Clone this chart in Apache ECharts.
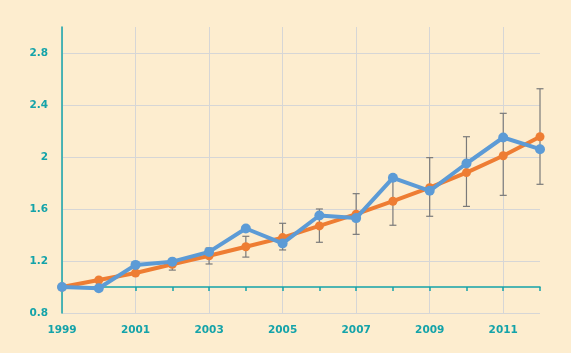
<!DOCTYPE html>
<html>
<head>
<meta charset="utf-8">
<script src="https://cdn.jsdelivr.net/npm/echarts@6/dist/echarts.min.js"></script>
<style>
  html, body { margin: 0; padding: 0; background: #fdedcf; }
  #chart { width: 571px; height: 353px; }
</style>
</head>
<body>
<div id="chart"></div>
<script>
// years on the x axis
const years = ["1999", "2000", "2001", "2002", "2003", "2004", "2005", "2006",
  "2007", "2008", "2009", "2010", "2011", "2012"];

// orange series (trend) and blue series (observed)
const orangeValues = [1.0, 1.054, 1.108, 1.175, 1.24, 1.31, 1.38, 1.47, 1.56, 1.66, 1.764, 1.88, 2.01, 2.156];
const blueValues = [1.0, 0.99, 1.17, 1.195, 1.27, 1.45, 1.335, 1.55, 1.53, 1.84, 1.74, 1.95, 2.15, 2.06];

// error bars around the orange series (null = none)
const errLow = [null, null, null, 1.13, 1.177, 1.23, 1.285, 1.344, 1.405, 1.475, 1.544, 1.62, 1.705, 1.79];
const errHigh = [null, null, null, 1.21, 1.30, 1.39, 1.49, 1.60, 1.718, 1.845, 1.995, 2.156, 2.336, 2.525];

const teal = "#14a3a9";
const gridGray = "#d6d6d6";
const labelFont = { color: teal, fontFamily: "DejaVu Sans", fontWeight: "bold", fontSize: 10.5 };

const chart = echarts.init(document.getElementById("chart"));

const errData = years.map((y, i) => [i, errLow[i], errHigh[i]]).filter(d => d[1] !== null);

const option = {
  backgroundColor: "#fdedcf",
  animation: false,
  grid: [
    { left: 62, right: 31, top: 27, bottom: 40 },
    { left: 62, right: 31, top: 27, bottom: 66 } // only for the teal line at 1.0
  ],
  xAxis: [
    {
      type: "category",
      data: years,
      boundaryGap: false,
      gridIndex: 0,
      axisLine: { show: false },
      axisTick: { show: false },
      axisLabel: Object.assign({ interval: 1, margin: 12 }, labelFont),
      splitLine: { show: true, interval: 1, lineStyle: { color: gridGray, width: 1 } }
    },
    {
      type: "category",
      data: years,
      boundaryGap: false,
      gridIndex: 1,
      axisLine: { show: true, lineStyle: { color: teal, width: 1.5 } },
      axisTick: { show: true, interval: 0, length: 4, lineStyle: { color: teal, width: 1.5 } },
      axisLabel: { show: false },
      splitLine: { show: false }
    }
  ],
  yAxis: [
    {
      type: "value",
      gridIndex: 0,
      min: 0.8,
      max: 3.0,
      interval: 0.4,
      axisLine: { show: true, lineStyle: { color: teal, width: 1.5 } },
      axisTick: { show: false },
      axisLabel: Object.assign({ showMaxLabel: false, margin: 14 }, labelFont),
      splitLine: {
        show: true,
        lineStyle: {
          color: [gridGray, gridGray, gridGray, gridGray, gridGray, gridGray, "rgba(0,0,0,0)"],
          width: 1
        }
      }
    },
    {
      type: "value",
      gridIndex: 1,
      show: false,
      min: 0,
      max: 1
    }
  ],
  series: [
    {
      name: "error",
      type: "custom",
      xAxisIndex: 0,
      yAxisIndex: 0,
      z: 1,
      data: errData,
      renderItem: function (params, api) {
        const x = api.value(0);
        const lo = api.coord([x, api.value(1)]);
        const hi = api.coord([x, api.value(2)]);
        const cap = 3.5;
        const style = { stroke: "#7a7a7a", lineWidth: 1.2 };
        return {
          type: "group",
          children: [
            { type: "line", shape: { x1: lo[0], y1: lo[1], x2: hi[0], y2: hi[1] }, style: style },
            { type: "line", shape: { x1: lo[0] - cap, y1: lo[1], x2: lo[0] + cap, y2: lo[1] }, style: style },
            { type: "line", shape: { x1: hi[0] - cap, y1: hi[1], x2: hi[0] + cap, y2: hi[1] }, style: style }
          ]
        };
      }
    },
    {
      name: "orange",
      type: "line",
      data: orangeValues,
      z: 3,
      symbol: "circle",
      symbolSize: 9,
      itemStyle: { color: "#ee7d33" },
      lineStyle: { color: "#ee7d33", width: 4 }
    },
    {
      name: "blue",
      type: "line",
      data: blueValues,
      z: 4,
      symbol: "circle",
      symbolSize: 10,
      itemStyle: { color: "#5c9bd6" },
      lineStyle: { color: "#5c9bd6", width: 4 }
    }
  ]
};

chart.setOption(option);
</script>
</body>
</html>
